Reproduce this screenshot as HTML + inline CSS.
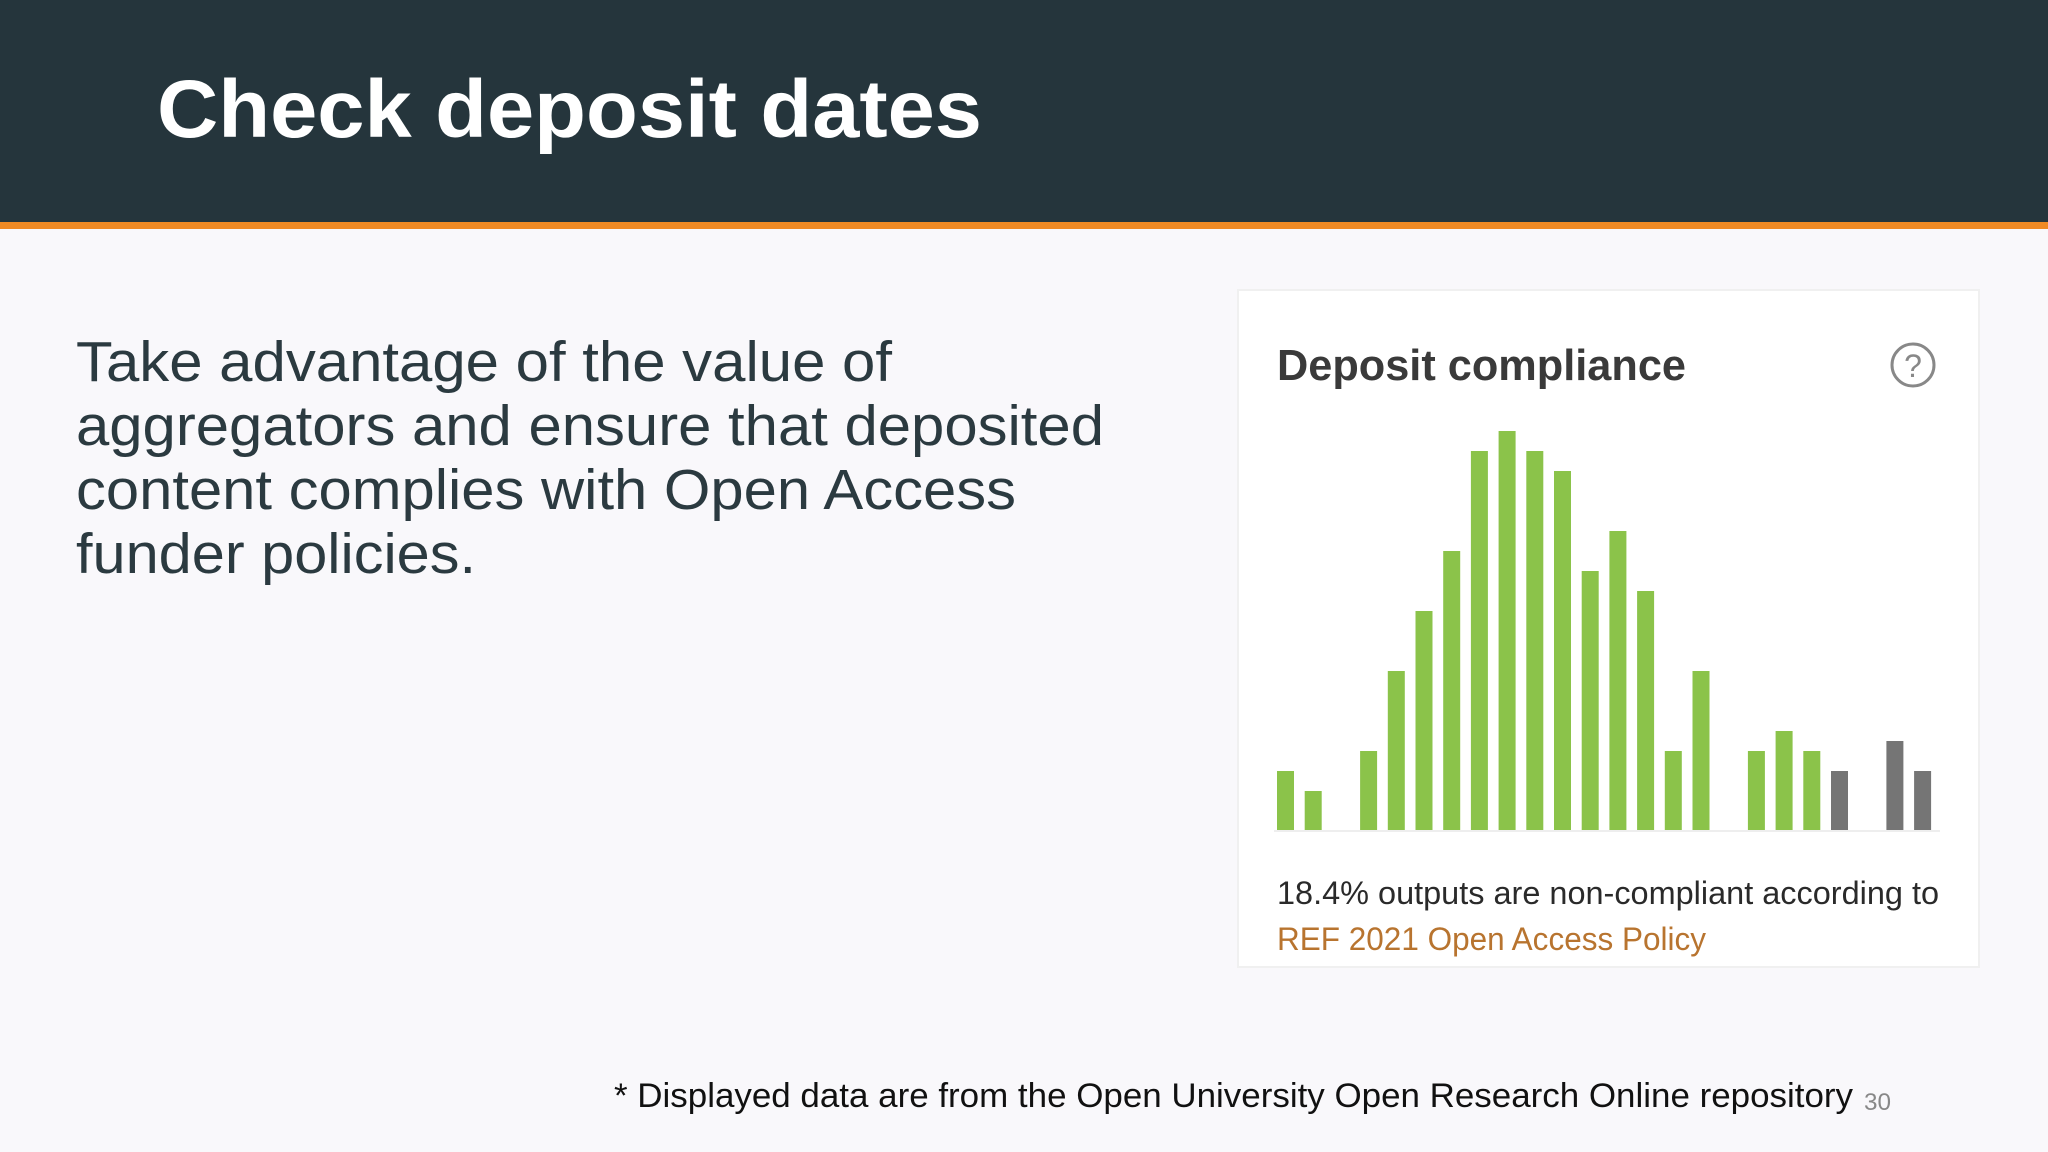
<!DOCTYPE html>
<html><head><meta charset="utf-8"><style>
body{margin:0;width:2048px;height:1152px;overflow:hidden;background:#f9f8fb;}
svg{display:block;font-family:"Liberation Sans",sans-serif;}
</style></head><body>
<svg id="page" width="2048" height="1152" viewBox="0 0 2048 1152">
<rect x="0" y="0" width="2048" height="1152" fill="#f9f8fb"/>
<rect x="0" y="0" width="2048" height="222" fill="#25353c"/>
<rect x="0" y="222" width="2048" height="7" fill="#f08a24"/>
<text x="157" y="137" font-size="82" font-weight="bold" fill="#ffffff" textLength="825" lengthAdjust="spacingAndGlyphs">Check deposit dates</text>
<g fill="#2b3a40" font-size="57">
<text x="76" y="381" textLength="816" lengthAdjust="spacingAndGlyphs">Take advantage of the value of</text>
<text x="76" y="445" textLength="1028" lengthAdjust="spacingAndGlyphs">aggregators and ensure that deposited</text>
<text x="76" y="509" textLength="940" lengthAdjust="spacingAndGlyphs">content complies with Open Access</text>
<text x="76" y="573" textLength="400" lengthAdjust="spacingAndGlyphs">funder policies.</text>
</g>
<rect x="1238" y="290" width="741" height="677" fill="#ffffff" stroke="#f0f0f0" stroke-width="2"/>
<text x="1277" y="380" font-size="44" font-weight="bold" fill="#3a3a3a" textLength="409" lengthAdjust="spacingAndGlyphs">Deposit compliance</text>
<g>
<circle cx="1913" cy="365" r="21" fill="none" stroke="#888" stroke-width="3"/>
<text x="1913" y="377" font-size="32" fill="#888" text-anchor="middle">?</text>
</g>
<g id="bars"></g>
<line x1="1274" y1="831" x2="1940" y2="831" stroke="#eeeeee" stroke-width="2"/>
<text x="1277" y="904" font-size="32" fill="#2a2a2a" textLength="662" lengthAdjust="spacingAndGlyphs">18.4% outputs are non-compliant according to</text>
<text x="1277" y="950" font-size="32" fill="#b8742f" textLength="429" lengthAdjust="spacingAndGlyphs">REF 2021 Open Access Policy</text>
<text x="614" y="1107" font-size="34" fill="#111" textLength="1239" lengthAdjust="spacingAndGlyphs">* Displayed data are from the Open University Open Research Online repository</text>
<text x="1864" y="1110" font-size="24" fill="#888" textLength="27" lengthAdjust="spacingAndGlyphs">30</text>
</svg>
<script>
const categories = ["b1","b2","b3","b4","b5","b6","b7","b8","b9","b10","b11","b12","b13","b14","b15","b16","b17","b18","b19","b20","b21","b22","b23","b24"];
const compliantValues = [3,2,0,4,8,11,14,19,20,19,18,13,15,12,4,8,0,4,5,4,0,0,0,0];
const nonCompliantValues = [0,0,0,0,0,0,0,0,0,0,0,0,0,0,0,0,0,0,0,0,3,0,4.5,3];
const x0 = 1277, pitch = 27.7, barW = 17, baseY = 831, unit = 20;
function xPos(i){ return x0 + i * pitch; }
function yLen(v){ return v * unit; }
const g = document.getElementById('bars');
const ns = 'http://www.w3.org/2000/svg';
function addBar(i, v, color, kind){
  if (!v) return;
  const r = document.createElementNS(ns, 'rect');
  r.setAttribute('x', xPos(i));
  r.setAttribute('y', baseY - yLen(v));
  r.setAttribute('width', barW);
  r.setAttribute('height', yLen(v));
  r.setAttribute('fill', color);
  
  
  g.appendChild(r);
}
categories.forEach((c, i) => {
  addBar(i, compliantValues[i], '#8bc34a', 'compliant-bar');
  addBar(i, nonCompliantValues[i], '#757575', 'non-compliant-bar');
});
</script>
</body></html>
